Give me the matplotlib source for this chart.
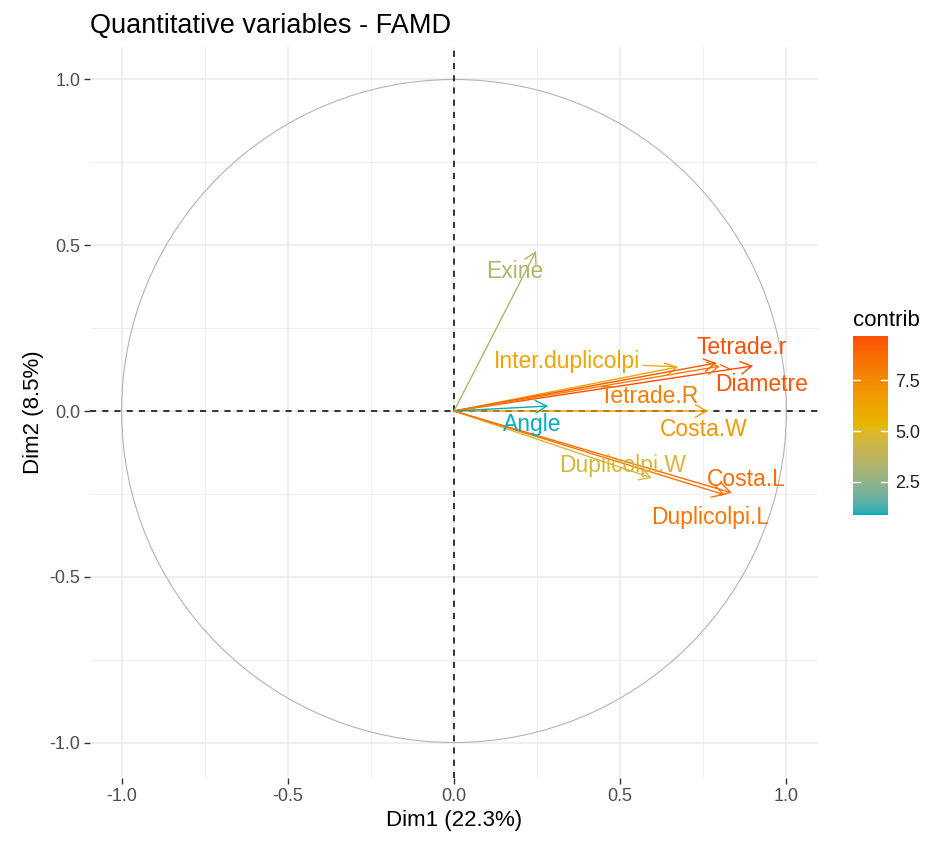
import numpy as np
import matplotlib.pyplot as plt
from matplotlib.colors import ListedColormap, Normalize, to_rgb
from matplotlib.patches import Circle

plt.rcParams["font.family"] = ["Liberation Sans", "DejaVu Sans"]

# %%
variables = ["Exine", "Inter.duplicolpi", "Tetrade.r", "Diametre", "Tetrade.R",
             "Costa.W", "Angle", "Duplicolpi.W", "Costa.L", "Duplicolpi.L"]
dim1 = [0.247, 0.674, 0.900, 0.790, 0.800, 0.764, 0.283, 0.595, 0.836, 0.815]
dim2 = [0.483, 0.133, 0.136, 0.145, 0.135, 0.000, 0.015, -0.202, -0.247, -0.253]
contrib = [3.4, 6.2, 9.66, 9.4, 8.0, 6.8, 0.88, 4.6, 8.6, 8.3]

# label centres (repelled positions) and whether a segment is drawn
label_x = [0.183, 0.340, 0.866, 0.926, 0.586, 0.752, 0.235, 0.508, 0.878, 0.770]
label_y = [0.422, 0.148, 0.193, 0.081, 0.045, -0.057, -0.042, -0.163, -0.208, -0.320]
segment = [False, True, False, True, False, False, False, False, False, False]

ticks = [-1.0, -0.5, 0.0, 0.5, 1.0]
tick_labels = ["-1.0", "-0.5", "0.0", "0.5", "1.0"]
cbar_ticks = [2.5, 5.0, 7.5]
gradient_cols = ["#00AFBB", "#E7B800", "#FC4E07"]


# %%
# ggplot interpolates gradients in CIE Lab, so do the same here
def rgb_to_lab(rgb):
    c = np.asarray(rgb, dtype=float)
    c = np.where(c > 0.04045, ((c + 0.055) / 1.055) ** 2.4, c / 12.92)
    m = np.array([[0.4124, 0.3576, 0.1805],
                  [0.2126, 0.7152, 0.0722],
                  [0.0193, 0.1192, 0.9505]])
    xyz = m @ c / np.array([0.95047, 1.0, 1.08883])
    f = np.where(xyz > 0.008856, np.cbrt(xyz), 7.787 * xyz + 16 / 116)
    return np.array([116 * f[1] - 16, 500 * (f[0] - f[1]), 200 * (f[1] - f[2])])


def lab_to_rgb(lab):
    L, a, b = lab
    fy = (L + 16) / 116
    f = np.array([fy + a / 500, fy, fy - b / 200])
    xyz = np.where(f ** 3 > 0.008856, f ** 3, (f - 16 / 116) / 7.787)
    xyz = xyz * np.array([0.95047, 1.0, 1.08883])
    m = np.array([[3.2406, -1.5372, -0.4986],
                  [-0.9689, 1.8758, 0.0415],
                  [0.0557, -0.2040, 1.0570]])
    c = m @ xyz
    c = np.where(c > 0.0031308, 1.055 * np.clip(c, 0, None) ** (1 / 2.4) - 0.055, 12.92 * c)
    return np.clip(c, 0, 1)


labs = [rgb_to_lab(to_rgb(c)) for c in gradient_cols]
ramp = []
for t in np.linspace(0, 1, 256):
    seg = min(int(t * 2), 1)
    u = t * 2 - seg
    ramp.append(lab_to_rgb(labs[seg] * (1 - u) + labs[seg + 1] * u))
cmap = ListedColormap(ramp)
norm = Normalize(vmin=min(contrib), vmax=max(contrib))

# %%
fig = plt.figure(figsize=(9.29, 8.41), dpi=100)
ax = fig.add_axes([90 / 929, 1 - 778 / 841, 728 / 929, 731 / 841])

ax.set_xlim(-1.095, 1.095)
ax.set_ylim(-1.107, 1.098)

for v in [-0.75, -0.25, 0.25, 0.75]:
    ax.axvline(v, color="#EBEBEB", lw=0.6, zorder=0)
    ax.axhline(v, color="#EBEBEB", lw=0.6, zorder=0)
for v in ticks:
    ax.axvline(v, color="#EBEBEB", lw=1.1, zorder=0)
    ax.axhline(v, color="#EBEBEB", lw=1.1, zorder=0)

ax.add_patch(Circle((0, 0), 1.0, fill=False, color="#B3B3B3", lw=0.8, zorder=1))
ax.axhline(0, color="black", lw=1.1, ls=(0, (4, 4)), zorder=1)
ax.axvline(0, color="black", lw=1.1, ls=(0, (4, 4)), zorder=1)

for i, name in enumerate(variables):
    col = cmap(norm(contrib[i]))
    ax.annotate("", xy=(dim1[i], dim2[i]), xytext=(0, 0),
                arrowprops=dict(arrowstyle="->,head_length=0.8,head_width=0.45",
                                color=col, lw=1.0, shrinkA=0, shrinkB=0,
                                mutation_scale=10),
                zorder=3)

for i, name in enumerate(variables):
    col = cmap(norm(contrib[i]))
    if segment[i]:
        ax.annotate(name, xy=(dim1[i], dim2[i]), xytext=(label_x[i], label_y[i]),
                    ha="center", va="center", fontsize=16.5, color=col,
                    arrowprops=dict(arrowstyle="-", color=col, lw=0.9,
                                    shrinkA=0, shrinkB=3),
                    zorder=4)
    else:
        ax.text(label_x[i], label_y[i], name, ha="center", va="center",
                fontsize=16.5, color=col, zorder=4)

ax.set_xticks(ticks)
ax.set_xticklabels(tick_labels)
ax.set_yticks(ticks)
ax.set_yticklabels(tick_labels)
ax.tick_params(length=4, width=1.0, color="#333333", labelcolor="#4D4D4D",
               labelsize=13, pad=3)
for s in ax.spines.values():
    s.set_visible(False)

ax.set_xlabel("Dim1 (22.3%)", fontsize=16, labelpad=4)
ax.set_ylabel("Dim2 (8.5%)", fontsize=16, labelpad=4)
fig.text(90 / 929, 1 - 33 / 841, "Quantitative variables - FAMD", fontsize=19.5,
         ha="left", va="baseline")

# %%
cax = fig.add_axes([853 / 929, 1 - 515 / 841, 35 / 929, 179 / 841])
grad = np.linspace(norm.vmin, norm.vmax, 300).reshape(-1, 1)
cax.imshow(grad, aspect="auto", cmap=cmap, norm=norm, origin="lower",
           extent=[0, 1, norm.vmin, norm.vmax])
for t in cbar_ticks:
    cax.plot([0, 0.2], [t, t], color="white", lw=1.0)
    cax.plot([0.8, 1], [t, t], color="white", lw=1.0)
cax.set_xlim(0, 1)
cax.set_ylim(norm.vmin, norm.vmax)
cax.set_xticks([])
cax.yaxis.tick_right()
cax.set_yticks(cbar_ticks)
cax.set_yticklabels(["2.5", "5.0", "7.5"])
cax.tick_params(length=0, labelsize=13, labelcolor="#222222", pad=5)
for s in cax.spines.values():
    s.set_visible(False)
fig.text(853 / 929, 1 - 320 / 841, "contrib", fontsize=16, ha="left", va="center")

fig.savefig("out.png", dpi=100)
